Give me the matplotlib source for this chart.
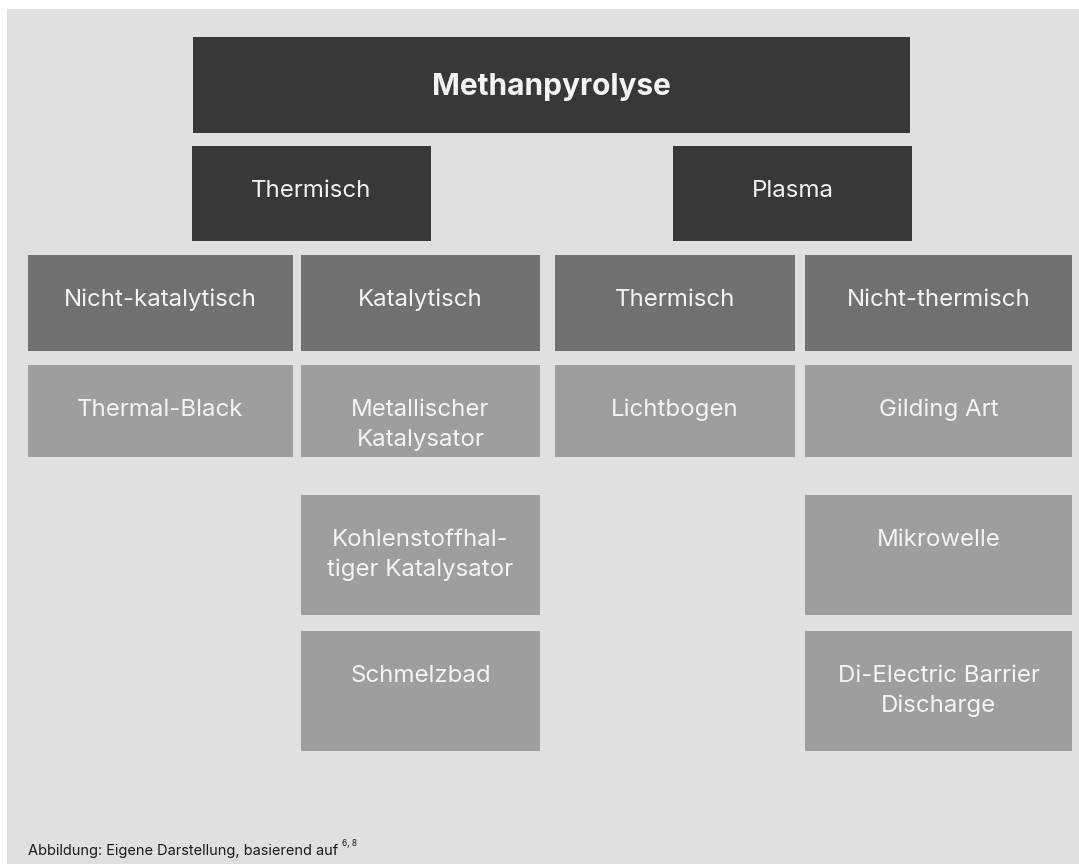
import matplotlib.pyplot as plt
from matplotlib.patches import Rectangle

plt.rcParams['font.family'] = ['Inter', 'DejaVu Sans']

# tree content
root = "Methanpyrolyse"
level2 = ["Thermisch", "Plasma"]
level3 = ["Nicht-katalytisch", "Katalytisch", "Thermisch", "Nicht-thermisch"]
leaves = [
    ["Thermal-Black"],
    ["Metallischer\nKatalysator", "Kohlenstoffhal-\ntiger Katalysator", "Schmelzbad"],
    ["Lichtbogen"],
    ["Gilding Art", "Mikrowelle", "Di-Electric Barrier\nDischarge"],
]
caption = "Abbildung: Eigene Darstellung, basierend auf"
caption_refs = "6, 8"

# layout in pixels
W, H = 1079, 864
bg = "#e0e0e0"
c_dark, c_mid, c_light = "#383838", "#717171", "#9e9e9e"
txt = "#f4f4f4"

root_box = (193, 37, 717, 96)
l2_x = [(192, 431), (673, 912)]
l3_x = [(28, 293), (301, 540), (555, 795), (805, 1072)]
l2_y = (146, 241)
l3_y = (255, 351)
leaf_y = [(365, 457), (495, 615), (631, 751)]

fig = plt.figure(figsize=(W / 100, H / 100), dpi=100)
ax = fig.add_axes([0, 0, 1, 1])
ax.set_xlim(0, W)
ax.set_ylim(H, 0)
ax.axis('off')
ax.add_patch(Rectangle((7, 9), W, H, color=bg, lw=0))


def box(x0, y0, w, h, color, label, size=17.3, weight='normal', base=51, lh=30):
    ax.add_patch(Rectangle((x0, y0), w, h, color=color, lw=0))
    for i, line in enumerate(label.split("\n")):
        ax.text(x0 + w / 2, y0 + base + i * lh, line, ha='center', va='baseline',
                color=txt, fontsize=size, fontweight=weight)


box(*root_box, c_dark, root, size=21.5, weight='bold', base=58)
for (x0, x1), lab in zip(l2_x, level2):
    box(x0, l2_y[0], x1 - x0, l2_y[1] - l2_y[0], c_dark, lab)
for (x0, x1), lab, col in zip(l3_x, level3, leaves):
    box(x0, l3_y[0], x1 - x0, l3_y[1] - l3_y[0], c_mid, lab)
    for (y0, y1), leaf in zip(leaf_y, col):
        box(x0, y0, x1 - x0, y1 - y0, c_light, leaf)

t = ax.text(28, 855, caption, ha='left', va='baseline', fontsize=10.5, color="#1a1a1a")
fig.canvas.draw()
bb = t.get_window_extent()
ax.text(bb.x1 + 4, 846, caption_refs, ha='left', va='baseline', fontsize=6, color="#1a1a1a")

fig.savefig("out.png", dpi=100, facecolor="white")
